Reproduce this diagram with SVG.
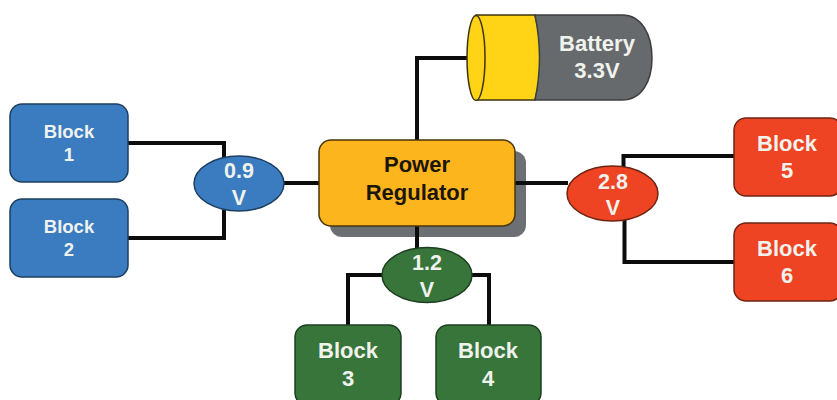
<svg xmlns="http://www.w3.org/2000/svg" width="837" height="400" viewBox="0 0 837 400">
<style>
text{font-family:"Liberation Sans",Arial,sans-serif;font-weight:bold;text-anchor:middle;fill:#f0f2ee}
.s{font-size:18.500px}.m{font-size:22px}.e{font-size:21.500px}
.blue{fill:#3b7cc0;stroke:#1d3f60;stroke-width:1.5}
.green{fill:#38753a;stroke:#1d3f20;stroke-width:1.5}
.red{fill:#ee4423;stroke:#6e2413;stroke-width:1.5}
#connectors path{fill:none;stroke:#0c0c0c;stroke-width:4}
</style>
<rect width="837" height="400" fill="#fff"/>
<rect x="330" y="151" width="196" height="86" rx="12" fill="#6c7074"/>
<g id="connectors">
<path d="M128 143H224V157"/>
<path d="M128 238H224V210"/>
<path d="M284 183H320"/>
<path d="M417 141V58H467"/>
<path d="M417 226V250"/>
<path d="M382 275H348V325"/>
<path d="M472 275H489V325"/>
<path d="M515 183H568"/>
<path d="M623.500 167V156H735"/>
<path d="M624.500 220V262H735"/>
</g>
<g id="battery">
<path d="M476 15H535Q541 40 542 58Q541 76 535 100H476Z" fill="#ffd416" stroke="#3d3410" stroke-width="1.500"/>
<path d="M535 15H622C642 15 652 35 652 58C652 81 642 100 622 100H535Q544 58 535 15Z" fill="#666a6c" stroke="#3c3e40" stroke-width="1.500"/>
<ellipse cx="476" cy="58" rx="9" ry="42.500" fill="#ffd416" stroke="#3d3410" stroke-width="1.500"/>
<text class="m" x="597" y="51">Battery</text>
<text class="m" x="597" y="78">3.3V</text>
</g>
<g id="regulator">
<rect x="319" y="140" width="196" height="86" rx="12" fill="#fdb51e" stroke="#4a3508" stroke-width="1.500"/>
<text class="m" x="417" y="172" style="fill:#1c1608">Power</text>
<text class="m" x="417" y="200" style="fill:#1c1608">Regulator</text>
</g>
<g id="block1"><rect class="blue" x="10" y="104" width="118" height="78" rx="12"/><text class="s" x="69" y="138">Block</text><text class="s" x="69" y="161">1</text></g>
<g id="block2"><rect class="blue" x="10" y="199" width="118" height="78" rx="12"/><text class="s" x="69" y="233">Block</text><text class="s" x="69" y="256">2</text></g>
<g id="v09"><ellipse class="blue" cx="239" cy="183.500" rx="45" ry="27.500"/><text class="e" x="239" y="178">0.9</text><text class="e" x="239" y="205">V</text></g>
<g id="v12"><ellipse class="green" cx="427" cy="275" rx="45" ry="27.500"/><text class="e" x="427" y="270">1.2</text><text class="e" x="427" y="297">V</text></g>
<g id="v28"><ellipse class="red" cx="612.500" cy="193.500" rx="45.500" ry="27.500"/><text class="e" x="613" y="189">2.8</text><text class="e" x="613" y="215">V</text></g>
<g id="block3"><rect class="green" x="295" y="325" width="106" height="80" rx="12"/><text class="m" x="348" y="358">Block</text><text class="m" x="348" y="386">3</text></g>
<g id="block4"><rect class="green" x="436" y="325" width="105" height="80" rx="12"/><text class="m" x="488" y="358">Block</text><text class="m" x="488" y="386">4</text></g>
<g id="block5"><rect class="red" x="734" y="118" width="108" height="78" rx="12"/><text class="m" x="787" y="151">Block</text><text class="m" x="787" y="178">5</text></g>
<g id="block6"><rect class="red" x="734" y="223" width="108" height="78" rx="12"/><text class="m" x="787" y="256">Block</text><text class="m" x="787" y="283">6</text></g>
</svg>
